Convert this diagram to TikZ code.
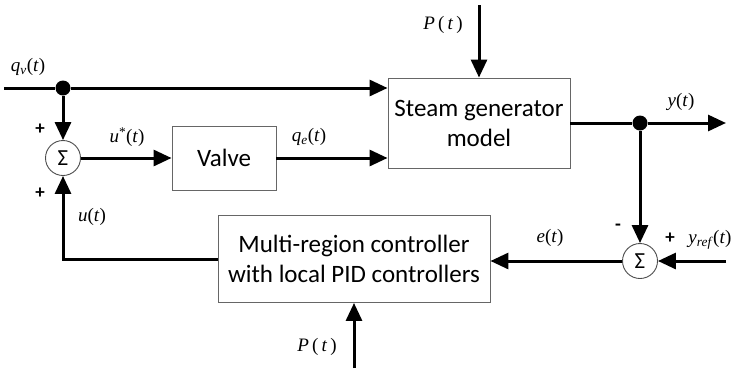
\documentclass[tikz,border=0pt]{standalone}
\usepackage{fontspec}
\setmainfont{Liberation Serif}
\newfontfamily\boxfont{Carlito}
\usetikzlibrary{arrows.meta}
\begin{document}
\begin{tikzpicture}[x=1pt,y=-1pt,
  blk/.style={draw=black!60, line width=0.9pt, inner sep=0pt, align=center,
    font=\boxfont\fontsize{25}{30}\selectfont},
  sig/.style={line width=3pt, -{Triangle[length=18pt,width=16pt]}},
  ln/.style={line width=3pt},
  sumnode/.style={circle, draw=black!70, line width=0.9pt, minimum size=35pt, inner sep=0pt, fill=white,
    font=\boxfont\fontsize{23}{24}\selectfont},
  dotnode/.style={circle, fill=black, minimum size=15pt, inner sep=0pt},
  lbl/.style={font=\fontsize{19}{22}\selectfont, inner sep=0pt},
  sgn/.style={font=\boxfont\bfseries\fontsize{19}{20}\selectfont, inner sep=0pt}
]
\useasboundingbox (0,0) rectangle (731,368);
% blocks
\node[blk, minimum width=182pt, minimum height=90pt] (steam) at (479,123) {Steam generator\\model};
\node[blk, minimum width=104pt, minimum height=64pt] (valve) at (224,158) {Valve};
\node[blk, minimum width=272pt, minimum height=87pt] (ctrl) at (354,259) {Multi-region controller\\with local PID controllers};
\node[sumnode] (sum1) at (63,158) {Σ};
\node[sumnode] (sum2) at (640,261) {Σ};
\node[dotnode] (dot1) at (63,88) {};
\node[dotnode] (dot2) at (640,123) {};
% free ends
\coordinate (qin) at (4,88);
\coordinate (ptop) at (479,5);
\coordinate (yout) at (726,123);
\coordinate (yref) at (726,261);
\coordinate (pbot) at (354,368);
% connectors
\draw[ln] (qin) -- (dot1);
\draw[sig] (dot1) -- (dot1 -| steam.west);
\draw[sig] (dot1) -- (sum1.north);
\draw[sig] (sum1.east) -- (sum1.east -| valve.west);
\draw[sig] (valve.east) -- (valve.east -| steam.west);
\draw[sig] (ptop) -- (steam.north);
\draw[ln] (steam.east) -- (dot2);
\draw[sig] (dot2) -- (yout);
\draw[sig] (dot2) -- (sum2.north);
\draw[sig] (yref) -- (sum2.east);
\draw[sig] (sum2.west) -- (sum2.west -| ctrl.east);
\draw[sig] (ctrl.west) -| (sum1.south);
\draw[sig] (pbot) -- (ctrl.south);
% labels
\node[lbl] (lqv) at (28,67) {\textit{q}\textsubscript{\textit{v}}(\textit{t})};
\node[lbl] (lus) at (127,137) {\textit{u}\textsuperscript{*}(\textit{t})};
\node[lbl] (lqe) at (309,137) {\textit{q}\textsubscript{\textit{e}}(\textit{t})};
\node[lbl] (lpt) at (443,25) {\textit{P}\,(\,\textit{t}\,)};
\node[lbl] (lyt) at (681,102) {\textit{y}(\textit{t})};
\node[lbl] (let) at (550,238) {\textit{e}(\textit{t})};
\node[lbl] (lyr) at (710,240) {\textit{y}\textsubscript{\textit{ref}}(\textit{t})};
\node[lbl] (lut) at (92,217) {\textit{u}(\textit{t})};
\node[lbl] (lpb) at (317,347) {\textit{P}\,(\,\textit{t}\,)};
\node[sgn] (s1) at (40,129) {+};
\node[sgn] (s2) at (40,193) {+};
\node[sgn] (s3) at (670,238) {+};
\node[sgn] (s4) at (618,227) {-};
\end{tikzpicture}
\end{document}
